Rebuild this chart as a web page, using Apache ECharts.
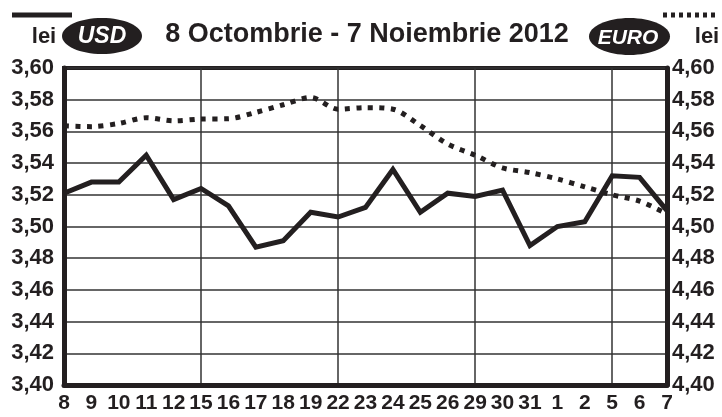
<!DOCTYPE html>
<html>
<head>
<meta charset="utf-8">
<script src="https://cdn.jsdelivr.net/npm/echarts@6/dist/echarts.min.js"></script>
<style>
  html, body { margin: 0; padding: 0; background: #fff; }
  #curs { width: 722px; height: 417px; }
</style>
</head>
<body>
<div id="curs"></div>
<script>
// zilele lucratoare 8 oct - 7 nov 2012
var zile = ["8", "9", "10", "11", "12", "15", "16", "17", "18", "19", "22", "23",
  "24", "25", "26", "29", "30", "31", "1", "2", "5", "6", "7"];
var usd = [3.521, 3.528, 3.528, 3.545, 3.517, 3.524, 3.513, 3.487, 3.491, 3.509, 3.506, 3.512,
  3.536, 3.509, 3.521, 3.519, 3.523, 3.488, 3.500, 3.503, 3.532, 3.531, 3.510];
var euro = [4.5635, 4.563, 4.565, 4.5686, 4.5667, 4.5678, 4.568, 4.572, 4.5768, 4.5814, 4.574, 4.575,
  4.574, 4.5637, 4.552, 4.545, 4.537, 4.534, 4.530, 4.525, 4.520, 4.516, 4.508];
// liniile verticale: inceputul fiecarei saptamani
var lunea = [5, 10, 15, 20];

var negru = "#231f20";
var fontBold = "'Liberation Sans', Arial, sans-serif";

function virgula(v) {
  return v.toFixed(2).replace(".", ",");
}

var chart = echarts.init(document.getElementById("curs"));
var option = {
  animation: false,
  grid: {
    left: 64, right: 55, top: 68, bottom: 32,
    show: true, borderColor: negru, borderWidth: 4
  },
  graphic: [
    { type: "line", shape: { x1: 12, y1: 15, x2: 72, y2: 15 }, style: { stroke: negru, lineWidth: 5 } },
    { type: "line", shape: { x1: 663, y1: 15, x2: 719, y2: 15 }, style: { stroke: negru, lineWidth: 5, lineDash: [4, 4] } },
    { type: "text", style: { x: 44, y: 37, text: "lei", fill: negru, font: "bold 22px " + fontBold, textAlign: "center", textVerticalAlign: "middle" } },
    { type: "text", style: { x: 707, y: 37, text: "lei", fill: negru, font: "bold 22px " + fontBold, textAlign: "center", textVerticalAlign: "middle" } },
    { type: "ellipse", shape: { cx: 102, cy: 36, rx: 40, ry: 18 }, style: { fill: negru } },
    { type: "ellipse", shape: { cx: 629.5, cy: 36.5, rx: 40.5, ry: 18.5 }, style: { fill: negru } },
    { type: "text", style: { x: 102, y: 37, text: "USD", fill: "#fff", font: "italic bold 23px " + fontBold, textAlign: "center", textVerticalAlign: "middle" } },
    { type: "text", style: { x: 628, y: 38, text: "EURO", fill: "#fff", font: "italic bold 21px " + fontBold, textAlign: "center", textVerticalAlign: "middle" } },
    { type: "text", style: { x: 367, y: 35, text: "8 Octombrie - 7 Noiembrie 2012", fill: negru, font: "bold 27px " + fontBold, textAlign: "center", textVerticalAlign: "middle" } }
  ],
  xAxis: {
    type: "category",
    data: zile,
    boundaryGap: false,
    axisLine: { lineStyle: { color: negru, width: 5 } },
    axisTick: { show: false },
    axisLabel: { color: negru, fontFamily: fontBold, fontWeight: "bold", fontSize: 21, margin: 8, interval: 0 },
    splitLine: {
      show: true,
      interval: function (index) { return lunea.indexOf(index) >= 0; },
      lineStyle: { color: "#333", width: 1.5 }
    }
  },
  yAxis: [
    {
      type: "value", min: 3.40, max: 3.60, interval: 0.02,
      axisLine: { show: true, lineStyle: { color: negru, width: 5 } },
      axisTick: { show: false },
      axisLabel: { color: negru, fontFamily: fontBold, fontWeight: "bold", fontSize: 22, margin: 10, formatter: virgula },
      splitLine: { lineStyle: { color: "#333", width: 1.5 } }
    },
    {
      type: "value", min: 4.40, max: 4.60, interval: 0.02, position: "right",
      axisLine: { show: true, lineStyle: { color: negru, width: 5 } },
      axisTick: { show: false },
      axisLabel: { color: negru, fontFamily: fontBold, fontWeight: "bold", fontSize: 22, margin: 5, formatter: virgula },
      splitLine: { show: false }
    }
  ],
  series: [
    {
      name: "USD", type: "line", data: usd, yAxisIndex: 0,
      symbol: "none", z: 3,
      lineStyle: { color: negru, width: 5, join: "miter" }
    },
    {
      name: "EURO", type: "line", data: euro, yAxisIndex: 1,
      symbol: "none", smooth: 0.3, z: 2,
      lineStyle: { color: negru, width: 5, type: [5, 6.5], cap: "butt" }
    }
  ]
};
chart.setOption(option);
</script>
</body>
</html>
